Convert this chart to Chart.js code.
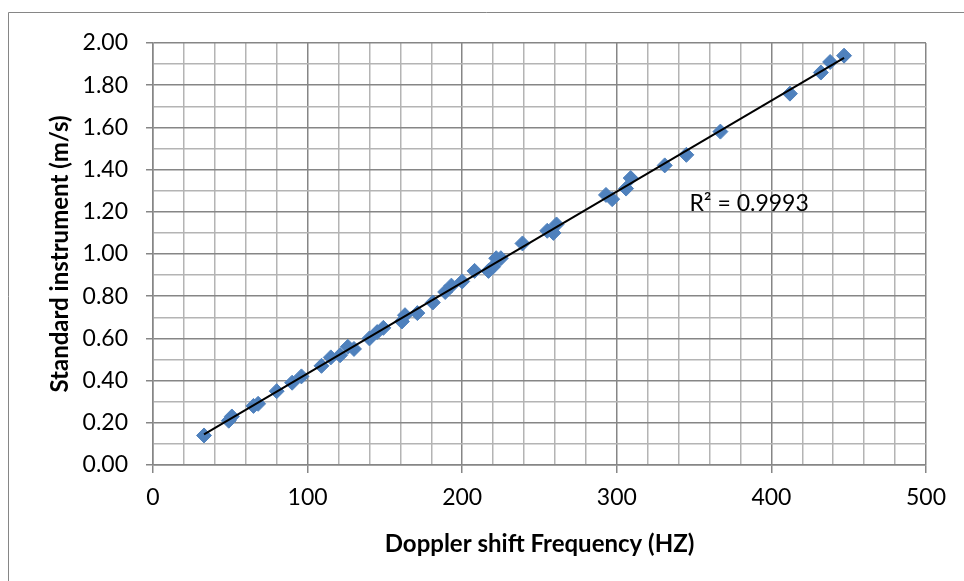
<!DOCTYPE html>
<html>
<head>
<meta charset="utf-8">
<script src="https://cdn.jsdelivr.net/npm/chart.js@4.4.1/dist/chart.umd.min.js"></script>
<style>
    body { margin: 0; background: #ffffff; }
    #wrap { position: relative; width: 964px; height: 581px; }
</style>
</head>
<body>
<div id="wrap">
    <canvas id="dopplerChart" width="964" height="581"></canvas>
</div>
<script>
// ===========================
// Doppler shift vs standard instrument
// values
// ===========================

const frequencyHz = [33, 49, 51, 65, 68, 80, 90, 96, 109, 115, 121, 126, 130, 140, 145, 149,
    161, 163, 171, 181, 189, 193, 200, 208, 217, 220, 222, 225, 239, 255, 259, 261,
    293, 297, 306, 309, 331, 345, 367, 412, 432, 438, 447];
const speedMs = [0.14, 0.21, 0.23, 0.28, 0.29, 0.35, 0.39, 0.42, 0.47, 0.51, 0.52, 0.56, 0.55, 0.60, 0.63, 0.65,
    0.68, 0.71, 0.72, 0.77, 0.82, 0.85, 0.87, 0.92, 0.92, 0.94, 0.98, 0.98, 1.05, 1.11, 1.10, 1.14,
    1.28, 1.26, 1.31, 1.36, 1.42, 1.47, 1.58, 1.76, 1.86, 1.91, 1.94];

const xTitle = 'Doppler shift Frequency (HZ)';
const yTitle = 'Standard instrument (m/s)';
const r2Label = 'R\u00B2 = 0.9993';

const MAJOR = '#868686';
const MINOR = '#b4b4b4';
const BLUE = '#4f81bd';
const FONT = 'Lato';

// Least squares fit for the trendline
function linearFit(xs, ys) {
    const n = xs.length;
    let sx = 0, sy = 0, sxx = 0, sxy = 0;
    for (let i = 0; i < n; i++) {
        sx += xs[i]; sy += ys[i];
        sxx += xs[i] * xs[i]; sxy += xs[i] * ys[i];
    }
    const slope = (n * sxy - sx * sy) / (n * sxx - sx * sx);
    const intercept = (sy - slope * sx) / n;
    return { slope, intercept };
}

const fit = linearFit(frequencyHz, speedMs);
const xMin = Math.min(...frequencyHz);
const xMax = Math.max(...frequencyHz);
const trendPoints = [xMin, xMax].map(x => ({ x: x, y: fit.slope * x + fit.intercept }));
const scatterPoints = frequencyHz.map((x, i) => ({ x: x, y: speedMs[i] }));

// outer frame + R² text
const extrasPlugin = {
    id: 'extras',
    beforeDraw(chart) {
        const ctx = chart.ctx;
        ctx.save();
        ctx.strokeStyle = MAJOR;
        ctx.lineWidth = 1;
        ctx.beginPath();
        ctx.moveTo(8.5, 581);
        ctx.lineTo(8.5, 12.5);
        ctx.lineTo(964, 12.5);
        ctx.stroke();
        ctx.restore();
    },
    afterDatasetsDraw(chart) {
        const ctx = chart.ctx;
        const xs = chart.scales.x;
        const ys = chart.scales.y;
        ctx.save();
        ctx.fillStyle = '#000000';
        ctx.font = '23px ' + FONT;
        ctx.textAlign = 'left';
        ctx.textBaseline = 'middle';
        ctx.fillText(r2Label, xs.getPixelForValue(347), ys.getPixelForValue(1.24));
        ctx.restore();
    }
};

new Chart(document.getElementById('dopplerChart'), {
    type: 'scatter',
    data: {
        datasets: [{
            label: 'Linear fit',
            type: 'line',
            data: trendPoints,
            borderColor: '#000000',
            borderWidth: 2,
            pointRadius: 0,
            fill: false,
            order: 0
        }, {
            label: 'Measurements',
            data: scatterPoints,
            pointStyle: 'rectRot',
            pointRadius: 7.5,
            backgroundColor: BLUE,
            borderColor: BLUE,
            borderWidth: 1,
            order: 1
        }]
    },
    options: {
        responsive: false,
        animation: false,
        events: [],
        layout: {
            padding: { left: 0, top: 43, right: 38, bottom: 0 }
        },
        plugins: {
            legend: { display: false },
            tooltip: { enabled: false }
        },
        scales: {
            x: {
                type: 'linear',
                min: 0,
                max: 500,
                afterFit: function(scale) { scale.height = 116; },
                border: { color: MAJOR, width: 1.5 },
                grid: {
                    color: ctx => (ctx.tick && ctx.tick.value % 100 === 0) ? MAJOR : MINOR,
                    tickColor: ctx => (ctx.tick && ctx.tick.value % 100 === 0) ? MAJOR : 'rgba(0,0,0,0)',
                    tickLength: 8,
                    lineWidth: 1.5
                },
                ticks: {
                    stepSize: 20,
                    autoSkip: false,
                    maxRotation: 0,
                    padding: 11,
                    color: '#000000',
                    font: { family: FONT, size: 23 },
                    callback: function(value) {
                        return value % 100 === 0 ? String(value) : '';
                    }
                },
                title: {
                    display: true,
                    text: xTitle,
                    color: '#000000',
                    font: { family: FONT, size: 24, weight: 'bold' },
                    padding: { top: 0, bottom: 22 }
                }
            },
            y: {
                type: 'linear',
                min: 0,
                max: 2,
                afterFit: function(scale) { scale.width = 153; },
                border: { color: MAJOR, width: 1.5 },
                grid: {
                    color: ctx => (ctx.tick && Math.round(ctx.tick.value * 10) % 2 === 0) ? MAJOR : MINOR,
                    tickColor: ctx => (ctx.tick && Math.round(ctx.tick.value * 10) % 2 === 0) ? MAJOR : 'rgba(0,0,0,0)',
                    tickLength: 7,
                    lineWidth: 1.5
                },
                ticks: {
                    stepSize: 0.1,
                    autoSkip: false,
                    padding: 18,
                    color: '#000000',
                    font: { family: FONT, size: 23 },
                    callback: function(value) {
                        return Math.round(value * 10) % 2 === 0 ? value.toFixed(2) : '';
                    }
                },
                title: {
                    display: true,
                    text: yTitle,
                    color: '#000000',
                    font: { family: FONT, size: 24, weight: 'bold' },
                    padding: { top: 46, bottom: 0 }
                }
            }
        }
    },
    plugins: [extrasPlugin]
});
</script>
</body>
</html>
